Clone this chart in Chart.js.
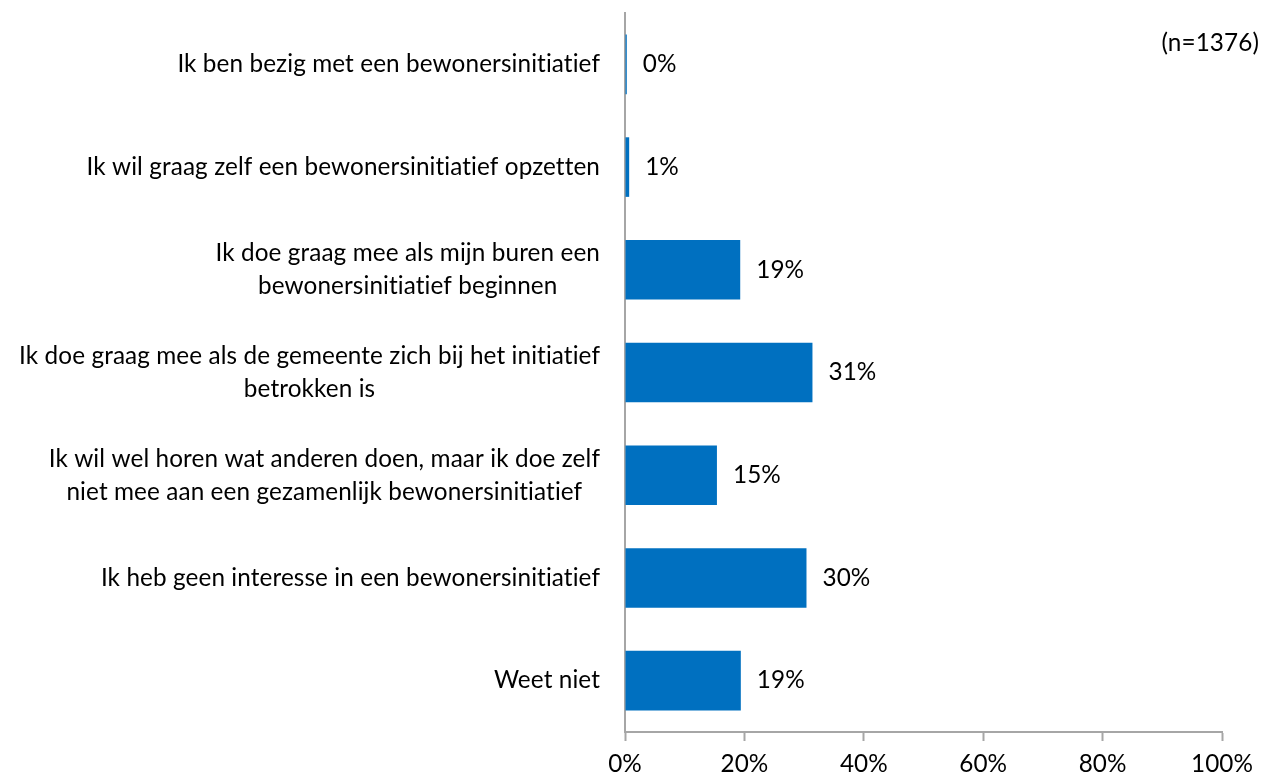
<!DOCTYPE html>
<html>
<head>
<meta charset="utf-8">
<script src="https://cdn.jsdelivr.net/npm/chart.js@4.4.0/dist/chart.umd.min.js"></script>
<style>
  body { margin: 0; background: #fff; }
  #wrap { width: 1265px; height: 775px; position: relative; }
</style>
</head>
<body>
<div id="wrap"><canvas id="chart"></canvas></div>
<script>
// Categories (each entry is the lines of one label)
const categories = [
    ['Ik ben bezig met een bewonersinitiatief'],
    ['Ik wil graag zelf een bewonersinitiatief opzetten'],
    ['Ik doe graag mee als mijn buren een', 'bewonersinitiatief beginnen'],
    ['Ik doe graag mee als de gemeente zich bij het initiatief', 'betrokken is'],
    ['Ik wil wel horen wat anderen doen, maar ik doe zelf', 'niet mee aan een gezamenlijk bewonersinitiatief'],
    ['Ik heb geen interesse in een bewonersinitiatief'],
    ['Weet niet']
];

// Percentages
const values = [0.3, 0.7, 19.3, 31.4, 15.4, 30.4, 19.4];

const xTicks = [0, 20, 40, 60, 80, 100];
const sampleNote = '(n=1376)';

const FONT = 'Lato, "Open Sans", sans-serif';
const FONT_SIZE = 24.3;
const AXIS_GREY = '#a6a6a6';
const BAR_BLUE = '#0070c0';

// Draws the centred multi-line category labels, the value labels and the n note
const labelPlugin = {
    id: 'labels',
    afterDraw(chart) {
        const ctx = chart.ctx;
        const yScale = chart.scales.y;
        const area = chart.chartArea;
        ctx.save();
        ctx.fillStyle = '#000';
        ctx.font = FONT_SIZE + 'px ' + FONT;
        ctx.textBaseline = 'middle';
        // tiny spacing switches off the "ti" ligature
        if ('letterSpacing' in ctx) ctx.letterSpacing = '0.1px';

        // category labels: block right aligned, lines centred within block
        const lineH = 33;
        categories.forEach((lines, i) => {
            const yc = yScale.getPixelForValue(i);
            const maxW = Math.max(...lines.map(l => ctx.measureText(l).width));
            const cx = area.left - 25 - maxW / 2;
            ctx.textAlign = 'center';
            lines.forEach((line, j) => {
                const y = yc + (j - (lines.length - 1) / 2) * lineH;
                ctx.fillText(line, cx, y);
            });
        });

        // value labels next to each bar
        const meta = chart.getDatasetMeta(0);
        ctx.textAlign = 'left';
        meta.data.forEach((bar, i) => {
            ctx.fillText(Math.round(values[i]) + '%', bar.x + 16, bar.y);
        });

        // sample size note
        ctx.textAlign = 'right';
        ctx.fillText(sampleNote, chart.width - 6, 43);
        ctx.restore();
    }
};

new Chart(document.getElementById('chart'), {
    type: 'bar',
    data: {
        labels: categories,
        datasets: [{
            data: values,
            backgroundColor: BAR_BLUE,
            borderWidth: 0,
            barPercentage: 0.58,
            categoryPercentage: 1.0
        }]
    },
    options: {
        indexAxis: 'y',
        responsive: true,
        maintainAspectRatio: false,
        animation: false,
        layout: { padding: { top: 13, right: 43, left: 0, bottom: 0 } },
        plugins: {
            legend: { display: false },
            tooltip: { enabled: false }
        },
        scales: {
            x: {
                min: 0,
                max: 100,
                afterBuildTicks: (scale) => {
                    scale.ticks = xTicks.map(v => ({ value: v }));
                },
                afterFit: (scale) => { scale.height = 43; },
                ticks: {
                    callback: (v) => v + '%',
                    color: '#000',
                    font: { family: FONT, size: FONT_SIZE },
                    padding: 9,
                    maxRotation: 0
                },
                grid: {
                    display: true,
                    drawOnChartArea: false,
                    drawTicks: true,
                    tickLength: 9,
                    tickColor: AXIS_GREY,
                    tickWidth: 2
                },
                border: { display: true, color: AXIS_GREY, width: 2 }
            },
            y: {
                afterFit: (scale) => { scale.width = 625; },
                ticks: { display: false },
                grid: { display: false },
                border: { display: true, color: AXIS_GREY, width: 2 }
            }
        }
    },
    plugins: [labelPlugin]
});
</script>
</body>
</html>
